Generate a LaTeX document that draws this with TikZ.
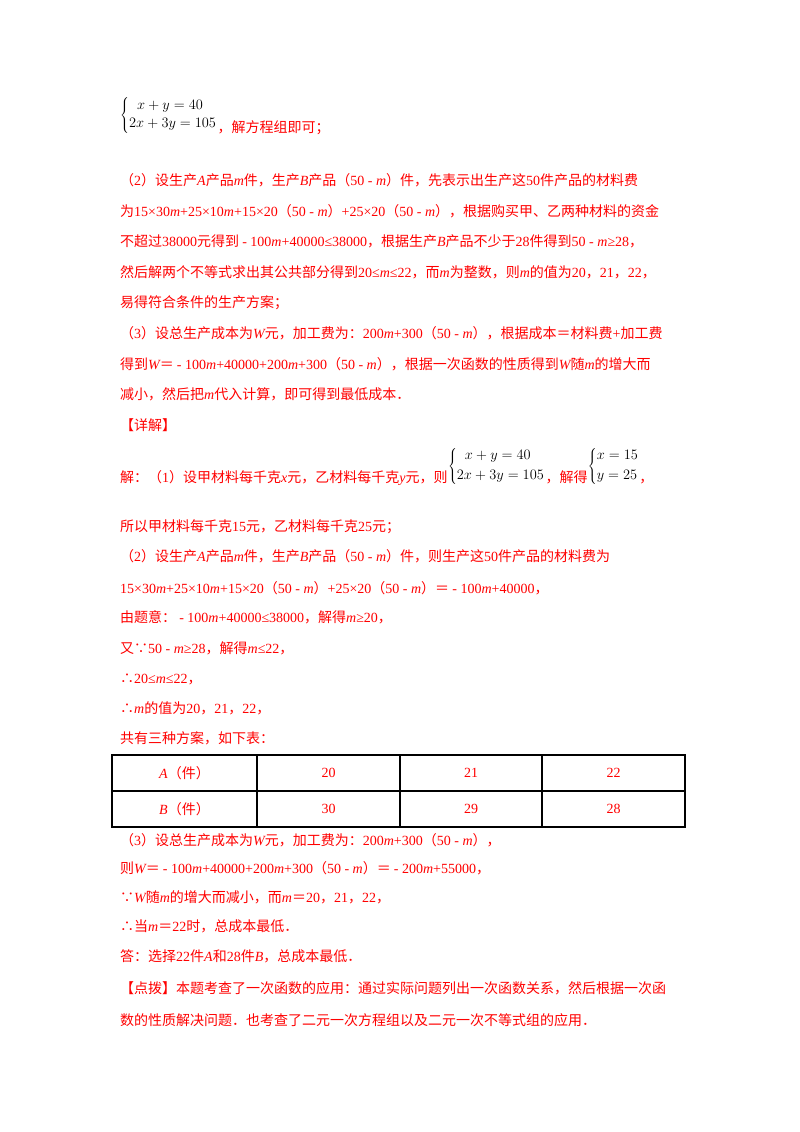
\documentclass[tikz,border=0pt]{standalone}
\usepackage{fontspec}
\setmainfont{Liberation Serif}
\newfontfamily\cjk{Noto Sans CJK SC}
\XeTeXinterchartokenstate=1
\newXeTeXintercharclass\CJKc
\makeatletter
\def\setcls#1#2{\count@=#1\relax\loop\XeTeXcharclass\count@=\CJKc\ifnum\count@<#2\advance\count@ 1\repeat}
\makeatother
\setcls{"4E00}{"9FFF}
\setcls{"3000}{"303F}
\setcls{"FF00}{"FFEF}
\XeTeXcharclass"2234=\CJKc
\XeTeXcharclass"2235=\CJKc
\XeTeXinterchartoks 0 \CJKc = {\cjk}
\XeTeXinterchartoks 4095 \CJKc = {\cjk}
\XeTeXinterchartoks \CJKc 0 = {\rmfamily}
\XeTeXinterchartoks 4095 0 = {\rmfamily}
\newcommand\iv[1]{\rmfamily\itshape #1\upshape}
\definecolor{tred}{RGB}{255,0,0}
\tikzset{ln/.style={anchor=base west,inner sep=0pt,text=tred,font=\fontsize{14}{16}\selectfont},
 sys/.style={anchor=west,inner sep=0pt,font=\fontsize{14}{16}\selectfont},
 cell/.style={inner sep=0pt,text=tred,font=\fontsize{14}{16}\selectfont}}
\begin{document}
\begin{tikzpicture}[x=1pt,y=-1pt]
\useasboundingbox[fill=white] (0,0) rectangle (800,1132);
% first system
\node[sys] (s1) at (120,115) {$\left\{\begin{array}{@{}l@{}}\;\;x+y=40\\[2pt]2x+3y=105\end{array}\right.$};
\coordinate (b1) at (0,132);
\node[ln] (t1) at (s1.east |- b1) {，解方程组即可；};
\node[ln] (l2) at (120,185) {（2）设生产\iv{A}产品\iv{m}件，生产\iv{B}产品（50 - \iv{m}）件，先表示出生产这50件产品的材料费};
\node[ln] (l3) at (120,216) {为15×30\iv{m}+25×10\iv{m}+15×20（50 - \iv{m}）+25×20（50 - \iv{m}），根据购买甲、乙两种材料的资金};
\node[ln] (l4) at (120,246) {不超过38000元得到 - 100\iv{m}+40000≤38000，根据生产\iv{B}产品不少于28件得到50 - \iv{m}≥28，};
\node[ln] (l5) at (120,277) {然后解两个不等式求出其公共部分得到20≤\iv{m}≤22，而\iv{m}为整数，则\iv{m}的值为20，21，22，};
\node[ln] (l6) at (120,307) {易得符合条件的生产方案；};
\node[ln] (l7) at (120,338) {（3）设总生产成本为\iv{W}元，加工费为：200\iv{m}+300（50 - \iv{m}），根据成本＝材料费+加工费};
\node[ln] (l8) at (120,369) {得到\iv{W}＝ - 100\iv{m}+40000+200\iv{m}+300（50 - \iv{m}），根据一次函数的性质得到\iv{W}随\iv{m}的增大而};
\node[ln] (l9) at (120,399) {减小，然后把\iv{m}代入计算，即可得到最低成本．};
\node[ln] (l10) at (120,430) {【详解】};
\node[ln] (l11) at (120,482) {解：（1）设甲材料每千克\iv{x}元，乙材料每千克\iv{y}元，则};
\node[sys] (s2) at (l11.east |- 0,466) {$\left\{\begin{array}{@{}l@{}}\;\;x+y=40\\[4pt]2x+3y=105\end{array}\right.$};
\coordinate (b2) at (0,482);
\node[ln] (t2) at (s2.east |- b2) {，解得};
\node[sys] (s3) at (t2.east |- 0,466) {$\left\{\begin{array}{@{}l@{}}x=15\\[4pt]y=25\end{array}\right.$};
\node[ln] (t3) at (s3.east |- b2) {，};
\node[ln] (l12) at (120,531) {所以甲材料每千克15元，乙材料每千克25元；};
\node[ln] (l13) at (120,561) {（2）设生产\iv{A}产品\iv{m}件，生产\iv{B}产品（50 - \iv{m}）件，则生产这50件产品的材料费为};
\node[ln] (l14) at (120,593) {15×30\iv{m}+25×10\iv{m}+15×20（50 - \iv{m}）+25×20（50 - \iv{m}）＝ - 100\iv{m}+40000，};
\node[ln] (l15) at (120,622) {由题意： - 100\iv{m}+40000≤38000，解得\iv{m}≥20，};
\node[ln] (l16) at (120,653) {又∵50 - \iv{m}≥28，解得\iv{m}≤22，};
\node[ln] (l17) at (120,683) {∴20≤\iv{m}≤22，};
\node[ln] (l18) at (120,713) {∴\iv{m}的值为20，21，22，};
\node[ln] (l19) at (120,743) {共有三种方案，如下表：};
% table
\draw[line width=1.2pt] (112,755) rectangle (685,827);
\draw[line width=1.2pt] (112,791) -- (685,791);
\foreach \xx in {257,400,542} \draw[line width=1.2pt] (\xx,755) -- (\xx,827);
\node[cell] (a0) at (184.5,773) {\iv{A}（件）};
\node[cell] (a1) at (328.5,773) {20};
\node[cell] (a2) at (471,773) {21};
\node[cell] (a3) at (613.5,773) {22};
\node[cell] (c0) at (184.5,809) {\iv{B}（件）};
\node[cell] (c1) at (328.5,809) {30};
\node[cell] (c2) at (471,809) {29};
\node[cell] (c3) at (613.5,809) {28};
\node[ln] (l20) at (120,845) {（3）设总生产成本为\iv{W}元，加工费为：200\iv{m}+300（50 - \iv{m}），};
\node[ln] (l21) at (120,873) {则\iv{W}＝ - 100\iv{m}+40000+200\iv{m}+300（50 - \iv{m}）＝ - 200\iv{m}+55000，};
\node[ln] (l22) at (120,902) {∵\iv{W}随\iv{m}的增大而减小，而\iv{m}＝20，21，22，};
\node[ln] (l23) at (120,931) {∴当\iv{m}＝22时，总成本最低．};
\node[ln] (l24) at (120,961) {答：选择22件\iv{A}和28件\iv{B}，总成本最低．};
\node[ln] (l25) at (120,993) {【点拨】本题考查了一次函数的应用：通过实际问题列出一次函数关系，然后根据一次函};
\node[ln] (l26) at (120,1025) {数的性质解决问题．也考查了二元一次方程组以及二元一次不等式组的应用．};
\end{tikzpicture}
\end{document}
